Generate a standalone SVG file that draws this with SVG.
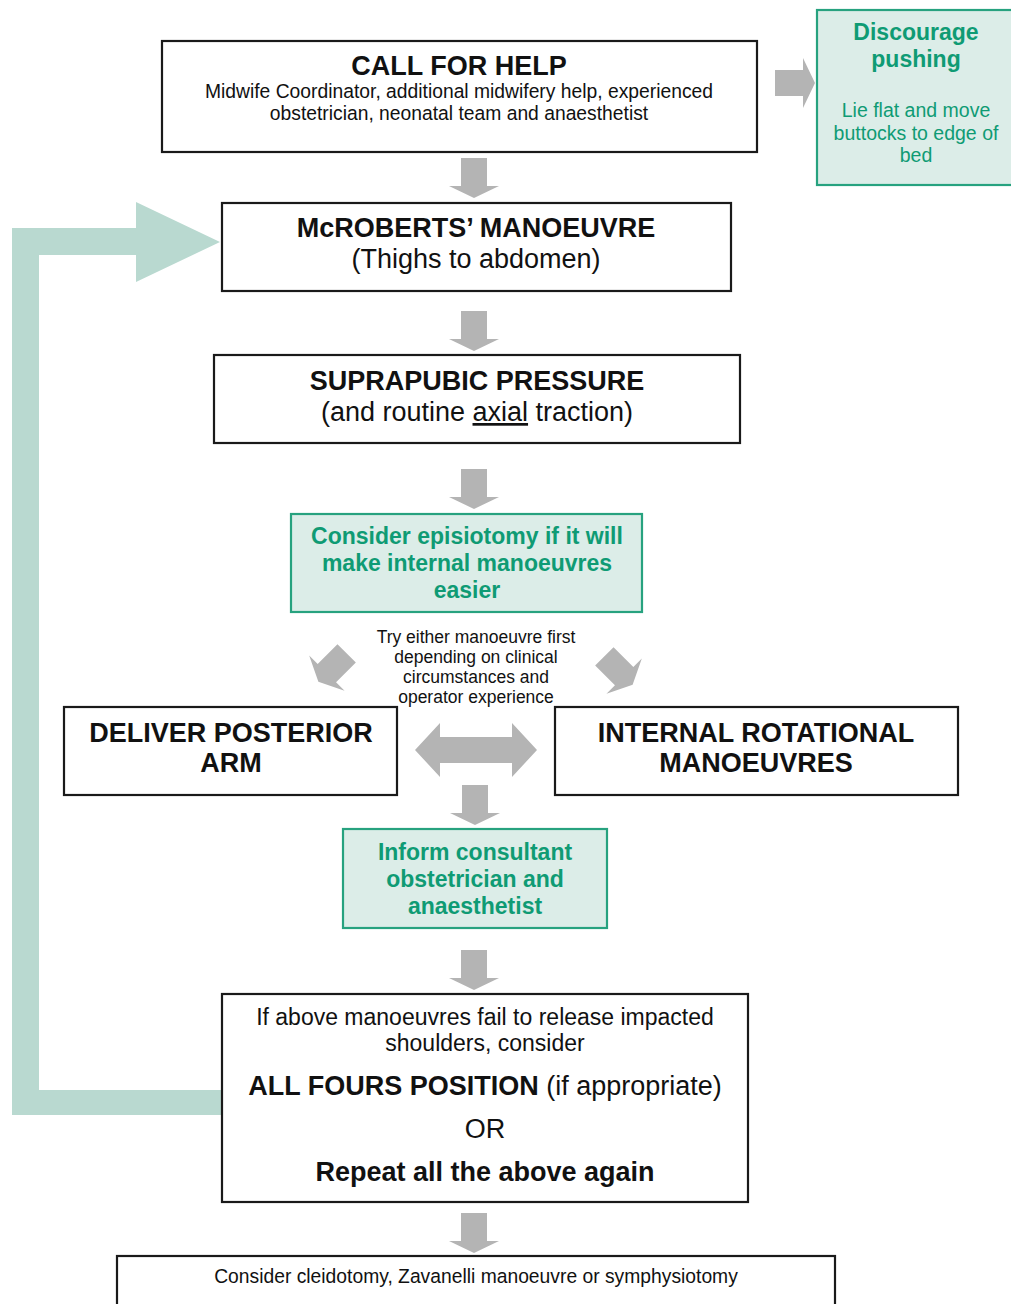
<svg xmlns="http://www.w3.org/2000/svg" width="1011" height="1304" viewBox="0 0 1011 1304">
<style>
.box{fill:#ffffff;stroke:#1a1a1a;stroke-width:2.2}
.gbox{fill:#dcede8;stroke:#27a27f;stroke-width:2.2}
.arr{fill:#b4b4b4}
.fb{fill:#b9d9d0}
text{font-family:"Liberation Sans",Arial,sans-serif;text-anchor:middle;fill:#111111}
.h{font-size:27px;font-weight:bold}
.r27{font-size:27px}
.s19{font-size:19.3px}
.s17{font-size:17.5px}
.s23{font-size:23px}
.g{fill:#0f9b74;font-weight:bold;font-size:23px}
.gs{fill:#0f9b74;font-size:19.5px}
</style>
<defs>
<polygon id="down" points="-13,0 13,0 13,28 25,28 0,40 -25,28 -13,28"/>
</defs>

<g id="connectors">
<polygon class="fb" points="12,228 136,228 136,202 220,242 136,282 136,255 39,255 39,1090 222,1090 222,1115 12,1115"/>
<use href="#down" class="arr" x="474" y="158"/>
<use href="#down" class="arr" x="474" y="311"/>
<use href="#down" class="arr" x="474" y="469"/>
<use href="#down" class="arr" x="475" y="785"/>
<use href="#down" class="arr" x="474" y="950"/>
<use href="#down" class="arr" x="474" y="1213"/>
<polygon class="arr" points="775,70 803,70 803,58 815,83 803,108 803,96 775,96"/>
<use href="#down" class="arr" transform="translate(341,659) rotate(45) translate(0,-8)"/>
<use href="#down" class="arr" transform="translate(610,662) rotate(-45) translate(0,-8)"/>
<polygon class="arr" points="415,750 440,723 440,737 512,737 512,723 537,750 512,777 512,763 440,763 440,777"/>
</g>

<g id="call-for-help">
<rect class="box" x="162" y="41" width="595" height="111"/>
<text class="h" x="459" y="75">CALL FOR HELP</text>
<text class="s19" x="459" y="98">Midwife Coordinator, additional midwifery help, experienced</text>
<text class="s19" x="459" y="120">obstetrician, neonatal team and anaesthetist</text>
</g>

<g id="discourage-pushing">
<rect class="gbox" x="817" y="10" width="210" height="175"/>
<text class="g" x="916" y="40">Discourage</text>
<text class="g" x="916" y="67">pushing</text>
<text class="gs" x="916" y="117">Lie flat and move</text>
<text class="gs" x="916" y="140">buttocks to edge of</text>
<text class="gs" x="916" y="162">bed</text>
</g>

<g id="mcroberts">
<rect class="box" x="222" y="203" width="509" height="88"/>
<text class="h" x="476" y="237">McROBERTS’ MANOEUVRE</text>
<text class="r27" x="476" y="268">(Thighs to abdomen)</text>
</g>

<g id="suprapubic">
<rect class="box" x="214" y="355" width="526" height="88"/>
<text class="h" x="477" y="390">SUPRAPUBIC PRESSURE</text>
<text class="r27" x="477" y="421">(and routine <tspan text-decoration="underline">axial</tspan> traction)</text>
</g>

<g id="episiotomy">
<rect class="gbox" x="291" y="514" width="351" height="98"/>
<text class="g" x="467" y="544">Consider episiotomy if it will</text>
<text class="g" x="467" y="571">make internal manoeuvres</text>
<text class="g" x="467" y="598">easier</text>
</g>

<g id="try-either-note">
<text class="s17" x="476" y="643">Try either manoeuvre first</text>
<text class="s17" x="476" y="663">depending on clinical</text>
<text class="s17" x="476" y="683">circumstances and</text>
<text class="s17" x="476" y="703">operator experience</text>
</g>

<g id="posterior-arm">
<rect class="box" x="64" y="707" width="333" height="88"/>
<text class="h" x="231" y="742">DELIVER POSTERIOR</text>
<text class="h" x="231" y="772">ARM</text>
</g>

<g id="internal-rotational">
<rect class="box" x="555" y="707" width="403" height="88"/>
<text class="h" x="756" y="742">INTERNAL ROTATIONAL</text>
<text class="h" x="756" y="772">MANOEUVRES</text>
</g>

<g id="inform-consultant">
<rect class="gbox" x="343" y="829" width="264" height="99"/>
<text class="g" x="475" y="860">Inform consultant</text>
<text class="g" x="475" y="887">obstetrician and</text>
<text class="g" x="475" y="914">anaesthetist</text>
</g>

<g id="all-fours">
<rect class="box" x="222" y="994" width="526" height="208"/>
<text class="s23" x="485" y="1025">If above manoeuvres fail to release impacted</text>
<text class="s23" x="485" y="1051">shoulders, consider</text>
<text class="r27" x="485" y="1095"><tspan font-weight="bold">ALL FOURS POSITION</tspan> (if appropriate)</text>
<text class="r27" x="485" y="1138">OR</text>
<text class="h" x="485" y="1181">Repeat all the above again</text>
</g>

<g id="final-options">
<rect class="box" x="117" y="1256" width="718" height="70"/>
<text class="s19" x="476" y="1283">Consider cleidotomy, Zavanelli manoeuvre or symphysiotomy</text>
</g>
</svg>
